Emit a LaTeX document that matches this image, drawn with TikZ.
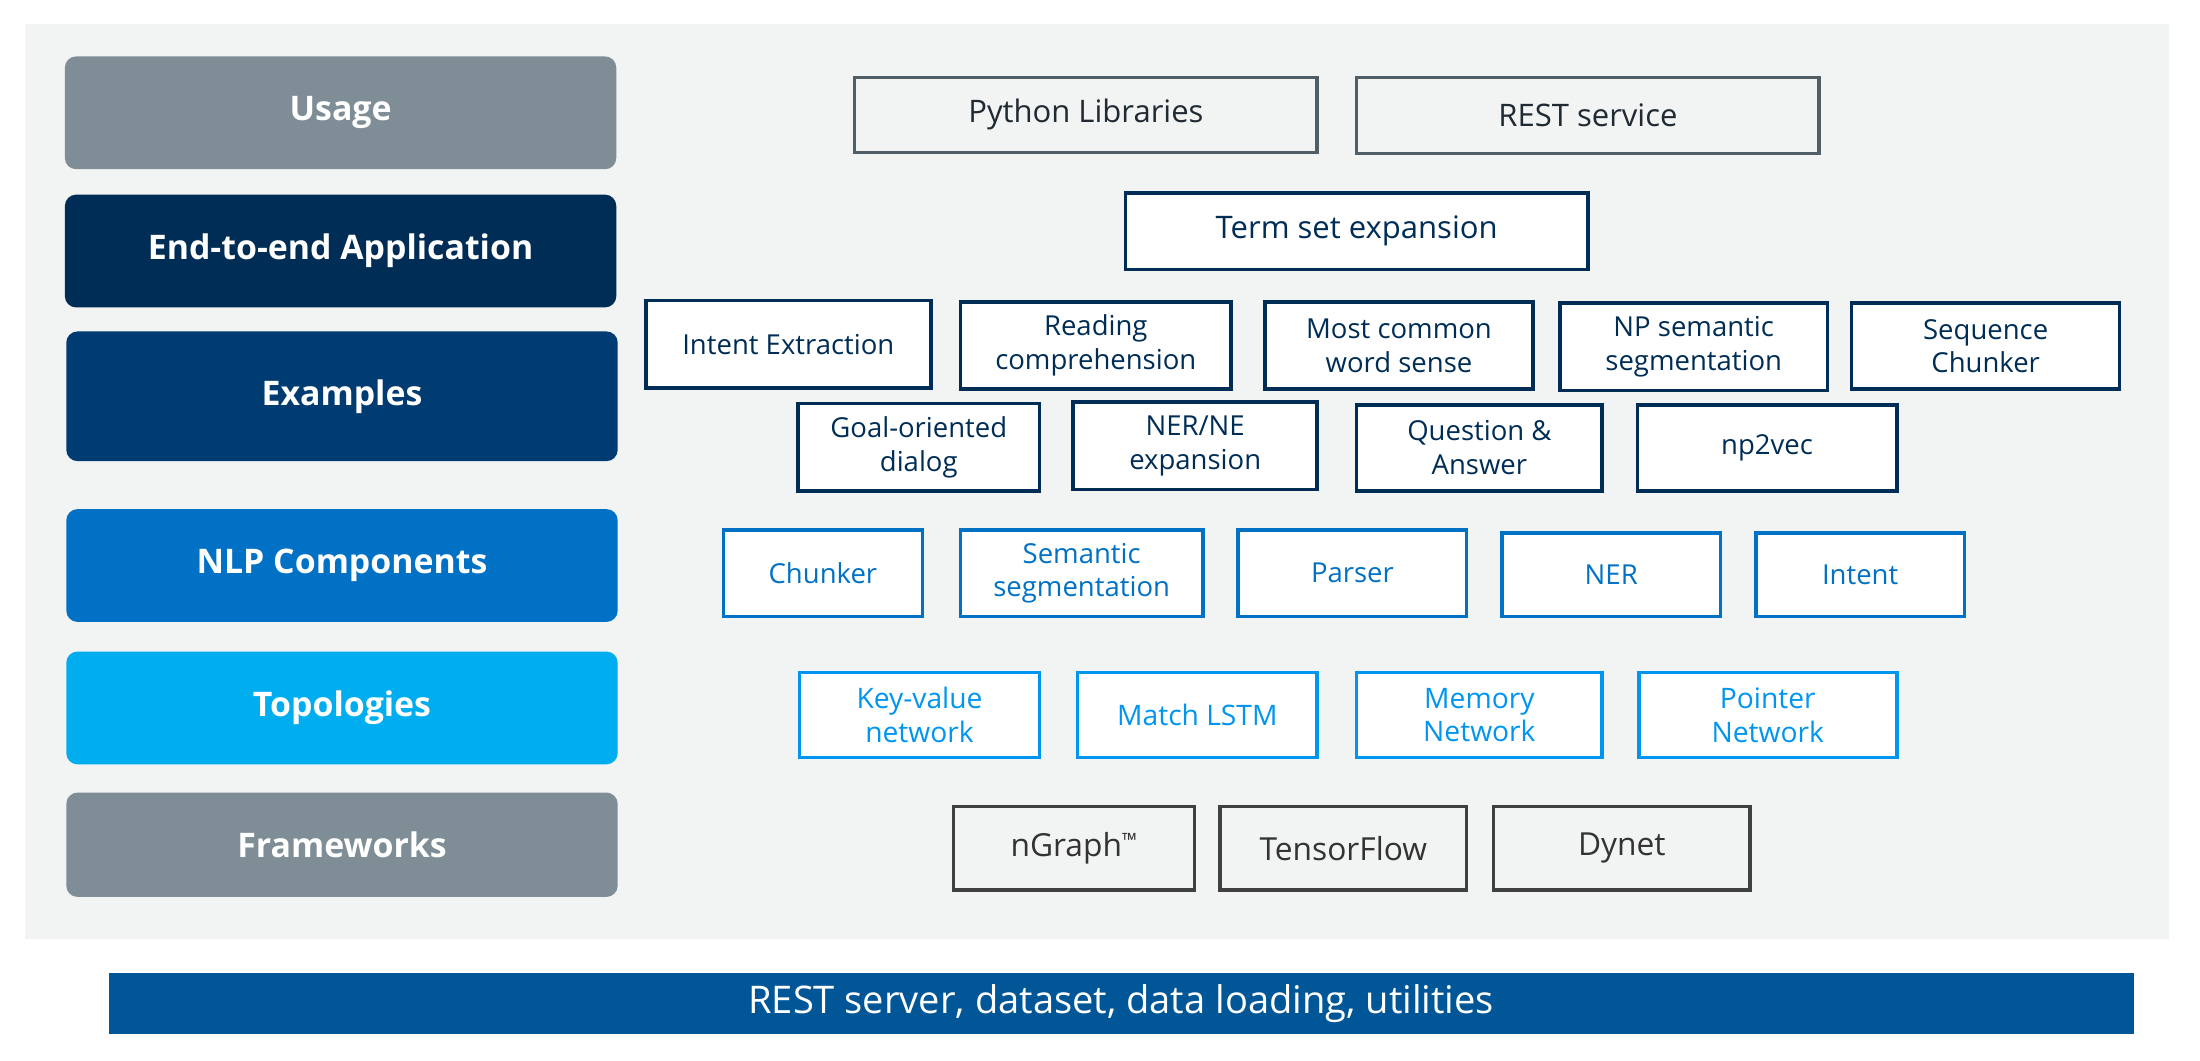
\documentclass[tikz,border=0pt]{standalone}
\usepackage{fontspec}
\setmainfont{Open Sans}
\definecolor{bg}{HTML}{F2F3F3}
\definecolor{gray1}{HTML}{7F8E96}
\definecolor{navy1}{HTML}{002D55}
\definecolor{navy2}{HTML}{003C71}
\definecolor{blue1}{HTML}{0071C5}
\definecolor{cyan1}{HTML}{00AEEF}
\definecolor{bar}{HTML}{005696}
\definecolor{usageline}{HTML}{525E66}
\definecolor{usagetext}{HTML}{1F2A33}
\definecolor{exline}{HTML}{002D55}
\definecolor{topo}{HTML}{0095F0}
\definecolor{fwline}{HTML}{404040}
\definecolor{fwtext}{HTML}{333333}
\begin{document}
\begin{tikzpicture}[x=1pt,y=-1pt,
  every node/.style={font=\fontsize{19.5}{24}\selectfont, inner sep=0pt, align=center},
  sz/.style 2 args={minimum width=#1pt, minimum height=#2pt},
  big/.style={font=\fontsize{22}{26}\selectfont},
  lay/.style={rounded corners=8pt, text=white, font=\fontsize{24}{28}\selectfont\bfseries, minimum width=391pt},
  ubox/.style={draw=usageline, line width=2.5pt, fill=bg, text=usagetext, big},
  exbox/.style={draw=exline, line width=2.5pt, fill=white, text=exline},
  nlpbox/.style={draw=blue1, line width=2.5pt, fill=white, text=blue1},
  topbox/.style={draw=topo, line width=2.5pt, fill=white, text=topo, font=\fontsize{20}{24}\selectfont},
  fwbox/.style={draw=fwline, line width=2.5pt, fill=bg, text=fwtext, font=\fontsize{22.5}{26}\selectfont}]
\useasboundingbox (0,0) rectangle (1560,752);
\fill[white] (0,0) rectangle (1560,752);
\fill[bg] (18,17) rectangle (1538,666);
% left layer labels
\node[lay, fill=gray1, minimum height=80pt] (usage) at (241.5,80) {Usage};
\node[lay, fill=navy1, minimum height=80pt] (e2e) at (241.5,178) {End-to-end Application};
\node[lay, fill=navy2, minimum height=92pt] (examples) at (242.5,281) {Examples};
\node[lay, fill=blue1, minimum height=80pt] (nlp) at (242.5,401) {NLP Components};
\node[lay, fill=cyan1, minimum height=80pt] (topol) at (242.5,502) {Topologies};
\node[lay, fill=gray1, minimum height=74pt] (frame) at (242.5,599) {Frameworks};
% usage
\node[ubox, sz={328}{53}] (pylib) at (770,81.5) {Python Libraries};
\node[ubox, sz={328}{54}] (rest) at (1126,82) {REST service};
% end-to-end
\node[exbox, big, sz={328}{54}] (tse) at (962,164) {Term set expansion};
% examples
\node[exbox, sz={202}{62}] (intx) at (559,244) {Intent Extraction};
\node[exbox, sz={192}{62}] (read) at (777,245) {Reading\\comprehension};
\node[exbox, sz={190}{62}] (most) at (992,245) {Most common\\word sense};
\node[exbox, sz={190}{62}] (npseg) at (1201,246) {NP semantic\\segmentation};
\node[exbox, sz={190}{61}] (seqch) at (1408,245.5) {Sequence\\Chunker};
\node[exbox, sz={171}{62}] (goal) at (651.5,317) {Goal-oriented\\dialog};
\node[exbox, sz={173}{62}] (nerne) at (847.5,316) {NER/NE\\expansion};
\node[exbox, sz={174}{61}] (qa) at (1049,317.5) {Question \&\\Answer};
\node[exbox, sz={184}{61}] (np2vec) at (1253,317.5) {np2vec};
% nlp components
\node[nlpbox, sz={141}{61}] (chunk) at (583.5,406.5) {Chunker};
\node[nlpbox, sz={172}{61}] (semseg) at (767,406.5) {Semantic\\segmentation};
\node[nlpbox, sz={162}{61}] (parser) at (959,406.5) {Parser};
\node[nlpbox, sz={155}{59}] (ner) at (1142.5,407.5) {NER};
\node[nlpbox, sz={148}{59}] (intent) at (1319,407.5) {Intent};
% topologies
\node[topbox, sz={170}{60}] (kv) at (652,507) {Key-value\\network};
\node[topbox, sz={170}{60}] (mlstm) at (849,507) {Match LSTM};
\node[topbox, sz={174}{60}] (memnet) at (1049,507) {Memory\\Network};
\node[topbox, sz={183}{60}] (ptrnet) at (1253.5,507) {Pointer\\Network};
% frameworks
\node[fwbox, sz={171}{59}] (ngraph) at (761.5,601.5) {nGraph\raisebox{0.3em}{\fontsize{14}{14}\selectfont ™}};
\node[fwbox, sz={175}{59}] (tf) at (952.5,601.5) {TensorFlow};
\node[fwbox, sz={182}{59}] (dynet) at (1150,601.5) {Dynet};
% bottom bar
\node[fill=bar, text=white, sz={1436}{43}, font=\fontsize{27}{32}\selectfont] (util) at (795,711.5) {REST server, dataset, data loading, utilities};
\end{tikzpicture}
\end{document}
